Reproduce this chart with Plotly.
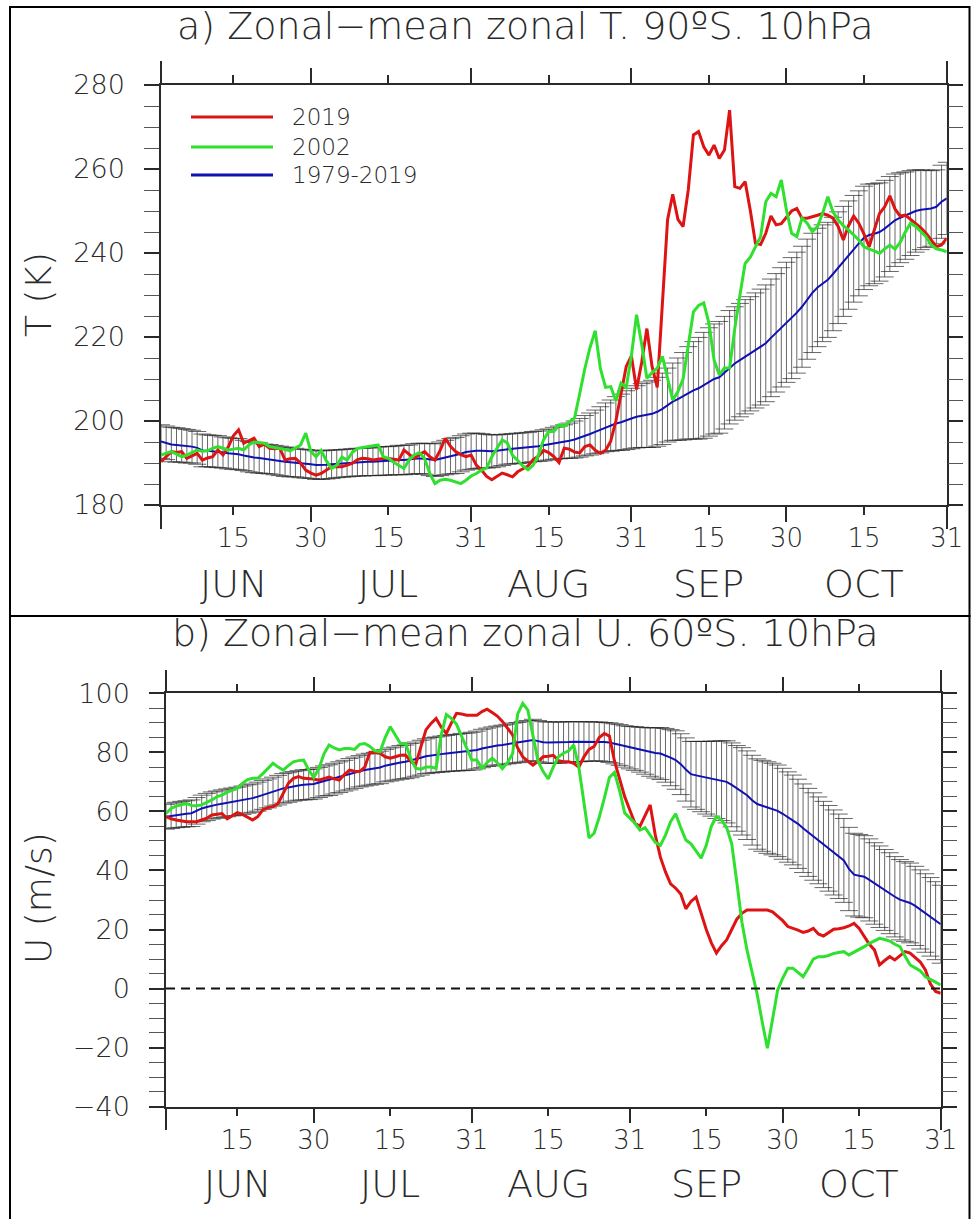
import pandas as pd
import plotly.graph_objects as go

# ---------------------------------------------------------------- data
days = pd.date_range("2019-06-01", "2019-10-31", freq="D")

# a) zonal-mean temperature, 90S, 10 hPa (K); one value per day Jun 1 .. Oct 31
T_2019 = [
    190.3, 191.5, 192.7, 192.5, 192.7, 191.1, 191.8, 192.3, 190.7, 191.2, 191.5, 193.1, 191.9, 193.8, 196.5,
    197.9, 194.7, 195.3, 195.9, 193.9, 194.5, 193.5, 193.4, 193.5, 190.7, 191.0, 191.1, 190.0, 188.3, 187.6,
    187.1, 187.5, 188.3, 189.1, 189.1, 189.1, 189.5, 189.9, 190.8, 191.1, 191.0, 190.7, 190.9, 191.1, 191.1,
    190.9, 190.7, 193.1, 192.0, 191.1, 192.0, 192.7, 191.5, 190.7, 193.0, 195.9, 194.0, 192.7, 192.0, 191.5, 191.9,
    189.5, 188.3, 186.8, 186.0, 186.8, 187.6, 187.2, 186.7, 187.9, 188.6, 189.3, 190.8, 191.6, 193.0, 192.5,
    191.5, 190.1, 193.5, 193.3, 192.6, 192.4, 193.9, 194.3, 193.0, 192.3, 193.0, 195.2, 200.0, 207.0, 213.0, 215.5,
    207.5, 214.0, 222.0, 213.0, 208.0, 228.0, 247.9, 254.0, 248.0, 246.3, 255.0, 268.1, 268.9, 265.3, 263.3,
    265.7, 262.5, 264.5, 274.0, 255.8, 255.4, 257.0, 250.2, 242.3, 242.0, 244.7, 248.8, 246.7, 247.0, 248.5,
    250.0, 250.6, 248.3, 248.3, 248.6, 249.0, 249.4, 249.0, 248.3, 246.3, 243.1, 246.5, 248.8, 247.1, 244.5,
    241.5, 245.5, 249.4, 251.0, 253.6, 250.5, 248.8, 249.0, 248.0, 247.1, 246.0, 244.7, 243.0, 241.5, 241.9, 243.5,
]
T_2002 = [
    191.9, 192.3, 192.7, 192.1, 191.5, 191.9, 192.5, 193.1, 192.8, 192.9, 193.5, 193.9, 193.5, 193.1, 193.3,
    193.5, 193.1, 194.3, 195.0, 194.9, 194.7, 193.9, 193.7, 193.5, 193.2, 192.9, 193.6, 194.3, 197.1, 192.7,
    191.5, 193.0, 190.5, 188.7, 189.5, 191.4, 190.7, 192.5, 193.5, 193.7, 193.9, 194.0, 194.3, 191.5, 191.1,
    190.2, 189.5, 188.7, 190.7, 191.9, 192.5, 191.0, 187.5, 185.1, 185.9, 186.1, 185.9, 185.5, 185.1, 185.9, 186.9,
    187.5, 188.3, 188.8, 191.5, 193.5, 195.5, 194.8, 191.8, 190.6, 189.3, 188.4, 189.5, 191.8, 195.5, 197.5,
    197.5, 199.1, 198.7, 199.8, 200.7, 206.5, 212.5, 217.5, 221.5, 212.5, 208.0, 208.2, 204.8, 209.0, 208.0, 215.5,
    225.3, 218.2, 210.2, 211.5, 212.6, 215.4, 209.8, 205.0, 207.0, 210.0, 218.0, 226.0, 227.5, 228.1, 223.3,
    214.5, 211.0, 212.6, 212.6, 222.0, 230.0, 237.5, 239.0, 241.5, 243.9, 252.2, 254.2, 253.4, 257.4, 250.2,
    244.7, 243.9, 248.3, 247.1, 245.1, 246.3, 249.5, 253.4, 249.8, 247.9, 246.5, 245.5, 244.3, 243.1, 241.5,
    240.9, 240.5, 239.9, 241.0, 241.9, 240.9, 242.5, 245.0, 247.1, 246.3, 245.0, 243.9, 241.9, 241.0, 240.7, 240.3,
]
T_clim = [
    195.1, 194.8, 194.4, 194.3, 194.2, 194.0, 193.9, 193.6, 193.0, 192.9, 192.8, 192.7, 192.5, 192.3, 192.2,
    192.1, 191.8, 191.5, 191.3, 191.2, 191.0, 190.9, 190.7, 190.5, 190.3, 190.2, 190.1, 189.9, 189.8, 189.7,
    189.5, 189.5, 189.6, 189.7, 189.8, 189.9, 190.0, 190.1, 190.2, 190.2, 190.3, 190.3, 190.4, 190.5, 190.5,
    190.6, 190.7, 190.7, 190.8, 191.0, 191.1, 191.0, 190.8, 190.7, 191.0, 191.3, 191.6, 191.8, 192.2, 192.6, 192.8,
    192.9, 192.9, 192.8, 192.8, 192.9, 193.1, 193.3, 193.4, 193.5, 193.6, 193.7, 193.9, 194.0, 194.2, 194.4,
    194.7, 194.9, 195.1, 195.3, 195.6, 196.0, 196.5, 196.9, 197.4, 197.9, 198.5, 198.9, 199.4, 199.7, 200.2, 200.6,
    201.0, 201.3, 201.5, 201.7, 202.2, 202.9, 203.8, 204.6, 205.2, 205.9, 206.7, 207.3, 207.8, 208.5, 209.3,
    210.0, 210.4, 211.5, 212.8, 213.7, 214.5, 215.3, 216.0, 216.8, 217.6, 218.5, 219.8, 221.0, 222.3, 223.5,
    224.5, 225.8, 227.2, 229.0, 230.5, 231.8, 232.8, 233.6, 235.0, 236.5, 238.0, 239.5, 241.0, 242.3, 243.6,
    244.3, 244.6, 245.0, 245.8, 246.9, 247.8, 248.4, 248.9, 249.5, 250.0, 250.3, 250.5, 250.6, 251.0, 252.2, 253.0,
]
T_std = [
    4.0, 4.0, 4.1, 4.1, 4.0, 4.0, 3.9, 3.9, 3.9, 3.8, 3.8, 3.8, 3.7, 3.7, 3.7,
    3.7, 3.6, 3.6, 3.6, 3.6, 3.5, 3.5, 3.5, 3.5, 3.5, 3.5, 3.4, 3.4, 3.4, 3.4,
    3.4, 3.4, 3.4, 3.4, 3.3, 3.3, 3.3, 3.3, 3.3, 3.3, 3.3, 3.3, 3.4, 3.4, 3.4,
    3.4, 3.5, 3.5, 3.5, 3.6, 3.6, 3.7, 3.8, 3.9, 4.0, 4.1, 4.2, 4.3, 4.3, 4.3, 4.3,
    4.2, 4.1, 4.0, 3.9, 3.8, 3.7, 3.6, 3.6, 3.6, 3.6, 3.6, 3.6, 3.6, 3.7, 3.7,
    3.8, 3.9, 4.0, 4.2, 4.4, 4.6, 4.8, 5.0, 5.2, 5.5, 5.8, 6.1, 6.4, 6.7, 7.0, 7.2,
    7.4, 7.6, 7.8, 8.0, 8.2, 8.5, 8.8, 9.2, 9.8, 10.4, 11.0, 11.6, 12.1, 12.6, 12.9,
    13.1, 13.3, 13.4, 13.5, 13.5, 13.5, 13.6, 13.6, 13.7, 13.8, 13.9, 14.0, 14.1, 14.2, 14.3,
    14.4, 14.4, 14.4, 14.3, 14.2, 14.1, 13.9, 13.7, 13.5, 13.3, 13.1, 12.9, 12.7, 12.5, 12.3,
    12.1, 11.9, 11.7, 11.5, 11.3, 11.0, 10.7, 10.4, 10.1, 9.8, 9.5, 9.2, 9.0, 8.8, 8.7, 8.6,
]

# b) zonal-mean zonal wind, 60S, 10 hPa (m/s)
U_2019 = [
    58.2, 57.5, 57.1, 56.8, 56.5, 56.5, 56.5, 57.1, 57.7, 58.8, 59.0, 59.3, 57.5, 58.5, 59.6,
    59.0, 58.0, 57.1, 58.2, 60.5, 61.3, 61.6, 62.7, 66.0, 69.5, 71.2, 71.8, 71.2, 71.2, 71.0,
    70.6, 71.2, 71.6, 71.0, 70.6, 72.5, 74.0, 73.6, 73.5, 75.0, 80.0, 79.9, 79.7, 78.5, 78.0,
    78.5, 79.0, 79.1, 77.0, 76.0, 82.0, 87.6, 89.8, 91.5, 88.5, 86.4, 90.0, 93.2, 93.0, 92.6, 92.6,
    92.6, 93.8, 94.6, 93.5, 92.3, 90.5, 88.0, 85.9, 81.5, 78.5, 77.0, 75.7, 77.0, 78.5, 78.7,
    79.0, 77.2, 76.8, 76.8, 76.3, 75.0, 78.5, 81.0, 82.0, 85.0, 86.4, 85.5, 77.0, 71.0, 65.0, 60.5,
    56.0, 55.0, 58.5, 62.2, 52.0, 44.5, 39.5, 35.5, 34.0, 32.0, 27.0, 29.5, 31.0, 25.5, 20.0,
    15.5, 12.0, 14.5, 16.5, 20.0, 23.5, 25.5, 26.6, 26.6, 26.6, 26.6, 26.6, 26.0, 24.5, 23.0,
    21.0, 20.5, 19.8, 19.0, 19.5, 20.4, 18.5, 17.8, 19.0, 20.1, 20.3, 20.6, 21.2, 22.1, 20.4,
    17.5, 15.0, 13.1, 8.0, 9.5, 10.8, 9.7, 11.0, 12.5, 12.0, 10.5, 9.0, 6.3, 1.5, -1.0, -1.6,
]
U_2002 = [
    59.3, 61.0, 61.8, 62.3, 62.7, 62.0, 61.9, 62.2, 63.0, 63.9, 65.0, 65.5, 66.5, 67.2, 67.8,
    69.5, 70.8, 71.2, 71.2, 72.8, 74.5, 76.3, 75.0, 74.0, 75.5, 76.8, 77.2, 77.4, 74.0, 71.5,
    74.5, 79.5, 82.5, 81.5, 80.8, 81.3, 81.3, 81.0, 82.7, 83.0, 82.0, 80.5, 80.2, 85.0, 88.7,
    86.0, 83.0, 83.0, 78.0, 74.6, 74.3, 75.0, 75.0, 74.6, 86.0, 92.8, 91.5, 89.5, 85.5, 81.5, 77.4,
    77.4, 74.6, 76.5, 78.0, 76.5, 74.5, 76.5, 79.5, 93.0, 96.6, 94.3, 85.0, 77.0, 73.5, 71.0,
    75.1, 78.5, 79.7, 80.5, 82.5, 75.0, 63.0, 51.0, 52.6, 58.0, 64.5, 71.5, 73.2, 67.0, 59.5, 57.8,
    56.0, 53.7, 54.5, 52.0, 49.5, 48.5, 52.0, 56.5, 59.2, 54.5, 50.3, 49.0, 46.5, 44.2, 48.5,
    55.0, 58.2, 57.1, 54.5, 49.0, 36.0, 22.5, 13.0, 5.5, -2.0, -11.5, -20.2, -10.5, -0.5, 3.5,
    6.9, 6.9, 5.5, 4.0, 6.8, 10.0, 10.8, 10.8, 11.2, 11.9, 12.2, 12.5, 11.4, 12.3, 13.3,
    14.2, 15.3, 16.2, 17.0, 16.6, 16.1, 15.0, 14.2, 11.0, 8.0, 7.0, 6.0, 4.0, 3.2, 2.2, 1.2,
]
U_clim = [
    58.2, 58.5, 58.8, 59.0, 59.2, 59.4, 60.2, 61.0, 61.5, 62.0, 62.3, 62.6, 62.9, 63.2, 63.4,
    63.8, 64.2, 64.5, 65.0, 65.6, 66.1, 66.7, 67.2, 67.8, 68.1, 68.5, 68.8, 69.0, 69.1, 69.3,
    69.8, 70.3, 70.6, 71.1, 71.6, 72.1, 72.6, 73.1, 73.6, 74.0, 74.3, 74.6, 74.9, 75.5, 75.9,
    76.2, 76.6, 76.8, 77.2, 77.7, 78.2, 78.7, 79.0, 79.2, 79.4, 79.6, 79.8, 79.9, 80.1, 80.2, 80.4,
    80.8, 81.3, 81.7, 82.0, 82.3, 82.5, 82.8, 83.1, 83.3, 83.6, 83.9, 84.2, 83.8, 83.4, 83.3,
    83.3, 83.3, 83.4, 83.5, 83.6, 83.6, 83.6, 83.7, 83.7, 83.7, 83.5, 83.3, 82.9, 82.5, 82.0, 81.6,
    81.3, 80.9, 80.5, 80.1, 79.8, 79.6, 79.0, 78.2, 77.4, 76.0, 74.2, 72.6, 72.2, 71.8, 71.4,
    71.1, 70.7, 70.4, 70.0, 69.0, 67.8, 66.8, 65.5, 63.8, 62.5, 61.9, 61.3, 60.8, 60.2, 59.2,
    58.1, 57.1, 55.8, 54.3, 52.9, 51.5, 50.2, 48.8, 47.5, 46.1, 44.8, 43.4, 40.5, 38.6, 38.2,
    37.9, 36.8, 35.6, 34.5, 33.4, 32.3, 31.1, 30.1, 29.5, 29.0, 28.0, 26.8, 25.6, 24.3, 23.0, 21.8,
]
U_std = [
    4.2, 4.3, 4.3, 4.4, 4.4, 4.5, 4.5, 4.5, 4.6, 4.6, 4.6, 4.7, 4.7, 4.7, 4.8,
    4.8, 4.8, 4.8, 4.9, 4.9, 4.9, 4.9, 5.0, 5.0, 5.0, 5.0, 5.0, 5.1, 5.1, 5.1,
    5.1, 5.1, 5.2, 5.2, 5.2, 5.2, 5.3, 5.3, 5.3, 5.4, 5.4, 5.4, 5.5, 5.5, 5.6,
    5.6, 5.7, 5.7, 5.8, 5.8, 5.9, 5.9, 6.0, 6.0, 6.1, 6.1, 6.2, 6.2, 6.3, 6.3, 6.4,
    6.4, 6.5, 6.5, 6.6, 6.6, 6.7, 6.7, 6.8, 6.8, 6.9, 6.9, 7.0, 7.0, 7.0, 7.0,
    7.0, 7.0, 6.9, 6.9, 6.8, 6.8, 6.7, 6.7, 6.6, 6.6, 6.6, 6.7, 6.8, 6.9, 7.0, 7.2,
    7.4, 7.6, 7.9, 8.2, 8.5, 8.8, 9.1, 9.5, 9.9, 10.3, 10.7, 11.1, 11.5, 11.9, 12.3,
    12.7, 13.1, 13.5, 13.9, 14.2, 14.5, 14.8, 15.0, 15.2, 15.3, 15.4, 15.5, 15.5, 15.5, 15.4,
    15.3, 15.2, 15.1, 15.0, 14.9, 14.8, 14.7, 14.6, 14.5, 14.4, 14.3, 14.2, 14.1, 14.0, 14.0,
    13.9, 13.9, 13.8, 13.8, 13.7, 13.7, 13.6, 13.6, 13.5, 13.5, 13.4, 13.4, 13.3, 13.3, 13.2, 13.2,
]

for name, arr in [("T_2019", T_2019), ("T_2002", T_2002), ("T_clim", T_clim), ("T_std", T_std),
                  ("U_2019", U_2019), ("U_2002", U_2002), ("U_clim", U_clim), ("U_std", U_std)]:
    if len(arr) != len(days):
        raise ValueError(f"{name}: {len(arr)} values for {len(days)} days")

# axis annotations
tick_days = ["2019-06-15", "2019-06-30", "2019-07-15", "2019-07-31", "2019-08-15",
             "2019-08-31", "2019-09-15", "2019-09-30", "2019-10-15", "2019-10-31"]
tick_text = ["15", "30", "15", "31", "15", "31", "15", "30", "15", "31"]
month_end_days = ["2019-06-30", "2019-07-31", "2019-08-31", "2019-09-30"]
edge_days = ["2019-06-01", "2019-10-31"]
month_mid_days = ["2019-06-15", "2019-07-15", "2019-08-15", "2019-09-15", "2019-10-15"]
month_names = ["JUN", "JUL", "AUG", "SEP", "OCT"]
series_names = ["2019", "2002", "1979-2019"]

# ---------------------------------------------------------------- style
W, H = 971, 1219
FONT = "DejaVu Sans"
INK = "#2a2a2a"
RED, GREEN, BLUE = "#dd1414", "#2fe02f", "#1010b4"
COLORS = [RED, GREEN, BLUE]


def px(x):
    return x / W


def py(y):
    return 1 - y / H


def fnt(size, color=INK):
    return dict(family=FONT, size=size, color=color, weight=200)


panels = [
    dict(x="x", y="y", xo="x3", xe="x5", xdom=[px(161), px(946.7)], ydom=[py(505), py(85)],
         yrange=[180, 280], ymin=5, clim=T_clim, std=T_std, s19=T_2019, s02=T_2002,
         title="a) Zonal\u2212mean zonal T. 90\u00baS. 10hPa", ttl_y=26, ytitle="T (K)", ytitle_y=295,
         month_y=584),
    dict(x="x2", y="y2", xo="x4", xe="x6", xdom=[px(166), px(940.7)], ydom=[py(1106.7), py(693.3)],
         yrange=[-40, 100], ymin=5, clim=U_clim, std=U_std, s19=U_2019, s02=U_2002,
         title="b) Zonal\u2212mean zonal U. 60\u00baS. 10hPa", ttl_y=633, ytitle="U (m/s)", ytitle_y=898,
         month_y=1184),
]

fig = go.Figure()
layout = dict(
    width=W, height=H, margin=dict(l=0, r=0, t=0, b=0, autoexpand=False),
    paper_bgcolor="white", plot_bgcolor="white", showlegend=False,
    font=fnt(26),
)
annotations, shapes = [], []
xrange = [days[0], days[-1]]

for k, p in enumerate(panels):
    xa, ya = p["x"], p["y"]
    # spread bars (1979-2019 standard deviation)
    fig.add_trace(go.Scatter(
        x=days, y=p["clim"], xaxis=xa, yaxis=ya, mode="markers",
        marker=dict(size=0, opacity=0), hoverinfo="skip",
        error_y=dict(type="data", array=p["std"], visible=True,
                     color="rgba(30,30,30,0.75)", thickness=0.9, width=9),
    ))
    fig.add_trace(go.Scatter(x=days, y=p["clim"], xaxis=xa, yaxis=ya, mode="lines",
                             line=dict(color=BLUE, width=2), name=series_names[2]))
    fig.add_trace(go.Scatter(x=days, y=p["s19"], xaxis=xa, yaxis=ya, mode="lines",
                             line=dict(color=RED, width=3), name=series_names[0]))
    fig.add_trace(go.Scatter(x=days, y=p["s02"], xaxis=xa, yaxis=ya, mode="lines",
                             line=dict(color=GREEN, width=3), name=series_names[1]))
    # empty traces so the tick-only overlay axes are laid out
    for xo in (p["xo"], p["xe"]):
        fig.add_trace(go.Scatter(x=days[:1], y=[None], xaxis=xo, yaxis=ya, mode="lines",
                                 hoverinfo="skip"))

    def key(a):
        return "xaxis" + a[1:] if a != "x" else "xaxis"

    common_x = dict(domain=p["xdom"], anchor=ya, type="date", range=xrange, automargin=False,
                    showgrid=False, zeroline=False, showline=True, linecolor=INK,
                    linewidth=1.5, ticks="outside", tickcolor=INK, tickwidth=1.5,
                    mirror="ticks", fixedrange=True)
    layout[key(xa)] = dict(common_x, tickmode="array", tickvals=tick_days, ticktext=tick_text,
                           ticklen=8, tickfont=fnt(26), ticklabelstandoff=1)
    layout[key(p["xo"])] = dict(common_x, overlaying=xa, tickmode="array",
                                tickvals=month_end_days, ticklen=15, showticklabels=False)
    layout[key(p["xe"])] = dict(common_x, overlaying=xa, tickmode="array",
                                tickvals=edge_days, ticklen=22, showticklabels=False)
    ykey = "yaxis" + ya[1:] if ya != "y" else "yaxis"
    layout[ykey] = dict(domain=p["ydom"], anchor=xa, range=p["yrange"], dtick=20,
                        automargin=False,
                        showgrid=False, zeroline=False, showline=True, linecolor=INK,
                        linewidth=1.5, ticks="outside", ticklen=15, tickwidth=1.5,
                        tickcolor=INK, mirror="allticks", tickfont=fnt(27),
                        ticklabelstandoff=14, fixedrange=True,
                        minor=dict(dtick=p["ymin"], ticks="outside", ticklen=8,
                                   tickwidth=1.2, tickcolor="#555555"))

    # titles and labels
    annotations.append(dict(text=p["title"], x=px(525), y=py(p["ttl_y"]), xref="paper",
                            yref="paper", showarrow=False, font=fnt(38),
                            xanchor="center", yanchor="middle"))
    annotations.append(dict(text=p["ytitle"], x=px(38), y=py(p["ytitle_y"]), xref="paper",
                            yref="paper", showarrow=False, font=fnt(36), textangle=-90,
                            xanchor="center", yanchor="middle"))
    for d, m in zip(month_mid_days, month_names):
        annotations.append(dict(text=m, x=d, xref=xa, y=py(p["month_y"]), yref="paper",
                                showarrow=False, font=fnt(38), xanchor="center",
                                yanchor="middle"))

# zero line in panel b
shapes.append(dict(type="line", xref="x2 domain", yref="y2", x0=0, x1=1, y0=0, y1=0,
                   line=dict(color="#111111", width=2, dash="9px,6px")))

# legend of panel a
legend_rows = [117, 147, 175]
for name, col, yy in zip(series_names, COLORS, legend_rows):
    shapes.append(dict(type="line", xref="paper", yref="paper", x0=px(191), x1=px(273),
                       y0=py(yy), y1=py(yy), line=dict(color=col, width=3)))
    annotations.append(dict(text=name, x=px(290), y=py(yy), xref="paper", yref="paper",
                            showarrow=False, font=fnt(23), xanchor="left", yanchor="middle"))

# panel frames
for top, bottom in [(7, 616), (616, 1230)]:
    shapes.append(dict(type="rect", xref="paper", yref="paper", x0=px(10), x1=px(969.5),
                       y0=py(bottom), y1=py(top), line=dict(color="black", width=2),
                       fillcolor="rgba(0,0,0,0)", layer="above"))

layout["annotations"] = annotations
layout["shapes"] = shapes
fig.update_layout(**layout)
fig.write_html("out.html")
